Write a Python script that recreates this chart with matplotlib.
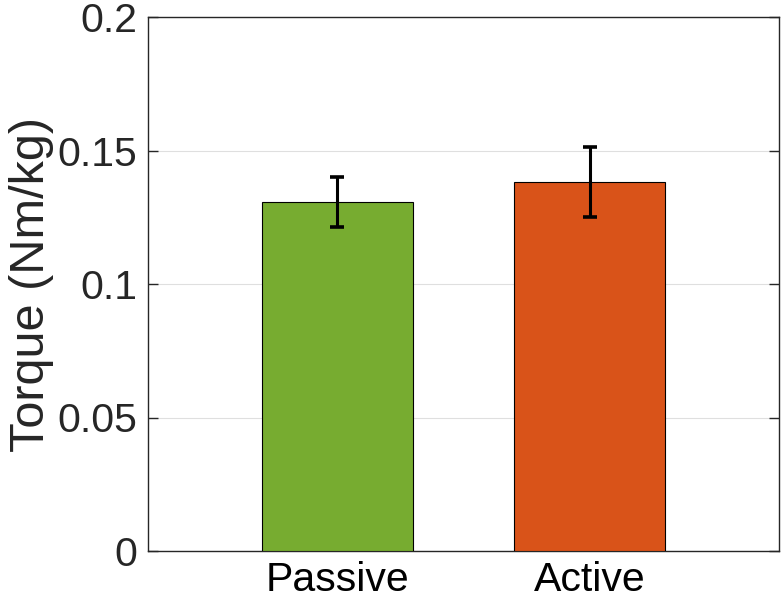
import matplotlib
matplotlib.use("Agg")
import matplotlib.pyplot as plt

categories = ["Passive", "Active"]
means = [0.1308, 0.1383]
errors = [0.0094, 0.0131]
colors = ["#77AC30", "#D95319"]
yticks = [0, 0.05, 0.1, 0.15, 0.2]
ytick_labels = ["0", "0.05", "0.1", "0.15", "0.2"]

plt.rcParams['font.family'] = ['Liberation Sans', 'DejaVu Sans']

fig = plt.figure(figsize=(7.83, 5.98), dpi=100)
ax = fig.add_axes([148/783, 1 - 551/598, (779-148)/783, (551-17)/598])

x = [1, 2]
ax.bar(x, means, width=0.6, color=colors, edgecolor="black", linewidth=0.8, zorder=3)
ax.errorbar(x, means, yerr=errors, fmt="none", ecolor="black", elinewidth=2.2,
            capsize=4.7, capthick=2.6, zorder=4)

ax.set_xlim(0.25, 2.75)
ax.set_ylim(0, 0.2)
ax.set_xticks(x)
ax.set_xticklabels(categories)
ax.set_yticks(yticks)
ax.set_yticklabels(ytick_labels)
ax.yaxis.grid(True, color="#DFDFDF", linewidth=0.8, zorder=0)
ax.set_axisbelow(True)
ax.tick_params(axis="y", direction="in", length=7, width=1, right=True, labelsize=29.5, pad=8, colors="#262626", labelcolor="#262626")
ax.tick_params(axis="x", length=0, labelsize=29.5, pad=7, labelcolor="black")
for s in ax.spines.values():
    s.set_color("#262626")
    s.set_linewidth(1)
ax.set_ylabel("Torque (Nm/kg)", fontsize=35, color="#262626", labelpad=2)

fig.savefig("out.png", dpi=100)
